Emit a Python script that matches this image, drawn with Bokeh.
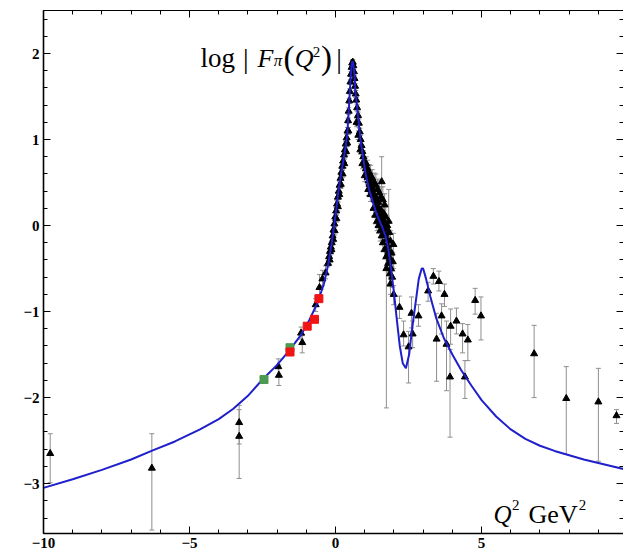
from bokeh.plotting import figure
from bokeh.models import (LinearAxis, SingleIntervalTicker, CustomJSTickFormatter,
                          Label, Range1d)
from bokeh.embed import file_html
from bokeh.resources import INLINE

# Model curve: log|F_pi(Q^2)| vs Q^2 (GeV^2)
curve_q2 = [-10.0, -9.0, -8.0, -7.0, -6.3, -5.5, -4.64, -4.0, -3.5, -3.0,
            -2.5, -2.0, -1.6, -1.2, -0.9, -0.62, -0.40, -0.25, -0.12, 0.00,
            0.10, 0.20, 0.30, 0.40, 0.46, 0.51, 0.55, 0.58, 0.61, 0.65,
            0.68, 0.77, 0.86, 0.95, 1.03, 1.15, 1.27, 1.40, 1.50, 1.60,
            1.71, 1.80, 1.90, 2.00, 2.10, 2.20, 2.30, 2.41, 2.52, 2.62,
            2.72, 2.85, 2.95, 3.00, 3.10, 3.25, 3.45, 3.71, 4.00, 4.30,
            4.65, 5.00, 5.50, 6.00, 6.50, 7.00, 7.50, 8.00, 8.50, 9.00,
            9.50, 9.86]
curve_logf = [-3.05, -2.95, -2.84, -2.72, -2.62, -2.51, -2.37, -2.25, -2.13, -1.98,
              -1.79, -1.62, -1.46, -1.28, -1.10, -0.90, -0.68, -0.45, -0.18, 0.12,
              0.40, 0.62, 0.82, 1.05, 1.38, 1.68, 1.87, 1.91, 1.88, 1.74,
              1.55, 1.28, 0.98, 0.78, 0.60, 0.42, 0.28, 0.14, 0.06, -0.02,
              -0.12, -0.26, -0.50, -0.78, -1.10, -1.40, -1.60, -1.66, -1.50, -1.20,
              -0.95, -0.62, -0.50, -0.50, -0.62, -0.83, -1.08, -1.31, -1.50, -1.68,
              -1.86, -2.03, -2.22, -2.37, -2.48, -2.56, -2.62, -2.67, -2.72, -2.76,
              -2.80, -2.83]

# Dense timelike data along the rho peak (value, symmetric error)
dense_q2 = [-0.26, -0.22, -0.19, -0.16, -0.13, -0.10, -0.07, -0.04, -0.01, 0.02,
            0.05, 0.08, 0.11, 0.14, 0.17, 0.20, 0.23, 0.26, 0.29, 0.32,
            0.35, 0.38, 0.41, 0.43, 0.45, 0.47, 0.49, 0.51, 0.53, 0.55,
            0.57, 0.59, 0.61, 0.63, 0.65, 0.67, 0.69, 0.71, 0.74, 0.77,
            0.80, 0.83, 0.86, 0.89, 0.92, 0.95, 0.98, 1.01, 1.04, 1.07,
            1.10, 1.13, 1.16, 1.19, 1.22, 1.25, 1.28, 1.31, 1.34, 1.37,
            1.40, 1.43, 1.46, 1.49, 1.52, 1.55, 1.58, 1.61, 1.64, 1.67,
            1.70, 1.73, 1.76, 1.79, 1.82, 1.86, 1.90, 1.94]
dense_logf = [-0.44, -0.36, -0.30, -0.25, -0.20, -0.12, -0.05, 0.02, 0.10, 0.17,
              0.25, 0.33, 0.40, 0.47, 0.55, 0.62, 0.69, 0.75, 0.82, 0.88,
              0.95, 1.02, 1.10, 1.22, 1.33, 1.45, 1.56, 1.67, 1.76, 1.84,
              1.89, 1.90, 1.86, 1.79, 1.71, 1.62, 1.53, 1.46, 1.37, 1.28,
              1.19, 1.09, 1.00, 0.93, 0.86, 0.80, 0.74, 0.70, 0.66, 0.60,
              0.56, 0.52, 0.48, 0.50, 0.44, 0.40, 0.42, 0.35, 0.30, 0.33,
              0.26, 0.22, 0.27, 0.17, 0.12, 0.18, 0.08, 0.02, 0.06, -0.04,
              -0.10, -0.02, -0.16, -0.24, -0.30, -0.38, -0.50, -0.60]
dense_err = [0.04, 0.05, 0.04, 0.05, 0.06, 0.04, 0.05, 0.04, 0.05, 0.04,
             0.04, 0.05, 0.04, 0.04, 0.05, 0.04, 0.04, 0.05, 0.04, 0.04,
             0.03, 0.04, 0.04, 0.03, 0.04, 0.03, 0.03, 0.03, 0.03, 0.03,
             0.03, 0.03, 0.03, 0.03, 0.03, 0.03, 0.04, 0.03, 0.04, 0.04,
             0.05, 0.04, 0.05, 0.06, 0.05, 0.07, 0.06, 0.08, 0.07, 0.09,
             0.08, 0.10, 0.08, 0.12, 0.09, 0.10, 0.14, 0.08, 0.11, 0.13,
             0.09, 0.12, 0.15, 0.10, 0.08, 0.14, 0.11, 0.09, 0.13, 0.10,
             0.12, 0.15, 0.09, 0.11, 0.10, 0.12, 0.10, 0.12]

# Second timelike set, scattered beside the first on both flanks
dense2_q2 = [1.05, 1.10, 1.15, 1.20, 1.26, 1.32, 1.38, 1.44, 1.50, 1.55,
             1.62, 1.68, 1.30, 1.36, 1.42, 1.47, 1.53, 1.58, 1.65, 1.72,
             1.77, 1.84, 1.88, 1.62, 1.68, 1.74, 1.80, 1.86, 1.92, 1.96,
             1.20, 1.12, 1.00, 0.92, 0.85, 0.78, 0.72, -0.20, -0.14, -0.08,
             -0.03, 0.03, 0.08, 0.13, 0.18, 0.24, 0.30, 0.36, 0.40, 0.44]
dense2_logf = [0.72, 0.66, 0.62, 0.58, 0.55, 0.50, 0.47, 0.42, 0.38, 0.33,
               0.30, 0.24, 0.20, 0.12, 0.05, 0.00, -0.06, -0.12, 0.14, 0.10,
               0.00, -0.08, -0.18, -0.20, -0.28, -0.36, -0.44, -0.56, -0.32, -0.42,
               0.36, 0.42, 0.58, 0.72, 0.88, 1.05, 1.20, -0.40, -0.28, -0.16,
               -0.06, 0.08, 0.22, 0.36, 0.48, 0.60, 0.72, 0.86, 0.96, 1.10]
dense2_err = [0.08, 0.10, 0.09, 0.12, 0.10, 0.11, 0.13, 0.12, 0.14, 0.12,
              0.15, 0.13, 0.09, 0.10, 0.11, 0.09, 0.12, 0.10, 0.12, 0.14,
              0.11, 0.13, 0.12, 0.10, 0.11, 0.12, 0.10, 0.12, 0.13, 0.11,
              0.08, 0.07, 0.07, 0.06, 0.05, 0.05, 0.05, 0.05, 0.05, 0.04,
              0.05, 0.04, 0.05, 0.04, 0.05, 0.04, 0.05, 0.04, 0.04, 0.04]

# Remaining data points with asymmetric error bars (lower, upper)
pt_q2 = [-9.77, -6.29, -3.30, -3.30, -1.96, -1.94, -1.18, -1.14, -0.68, -0.55,
         -0.45, -0.34, 1.58, 1.82, 1.98, 1.74, 1.88, 1.99, 2.19, 2.33,
         2.50, 2.60, 2.64, 2.84, 3.17, 3.35, 3.54, 3.73, 3.63, 3.46,
         3.80, 3.94, 3.92, 4.14, 4.35, 4.53, 4.43, 4.78, 4.98, 6.80,
         7.90, 9.00, 9.62]
pt_logf = [-2.65, -2.82, -2.29, -2.45, -1.64, -1.74, -1.25, -1.36, -0.92, -0.72,
           -0.62, -0.55, 0.51, 0.05, -0.22, -0.50, -0.68, -0.80, -0.95, -1.27,
           -1.41, -1.02, -1.26, -1.05, -0.76, -0.59, -0.65, -0.80, -1.05, -1.32,
           -1.38, -1.17, -1.76, -1.11, -1.26, -1.33, -1.76, -0.87, -1.05, -1.49,
           -2.01, -2.05, -2.21]
pt_low = [-2.99, -3.54, -2.54, -2.94, -1.76, -1.86, -1.32, -1.48, -1.00, -0.88,
          -0.70, -0.62, 0.16, -0.19, -0.50, -2.12, -0.80, -0.92, -1.08, -1.40,
          -1.83, -1.19, -1.42, -1.17, -0.88, -0.68, -0.76, -0.94, -1.26, -1.81,
          -1.92, -1.38, -2.46, -1.26, -1.48, -1.57, -2.01, -1.03, -1.33, -2.00,
          -2.66, -2.74, -2.30]
pt_high = [-2.42, -2.42, -2.09, -2.14, -1.55, -1.62, -1.18, -1.28, -0.85, -0.57,
           -0.52, -0.47, 0.80, 0.42, -0.09, -0.06, -0.60, -0.70, -0.82, -1.11,
           -1.23, -0.83, -1.11, -0.92, -0.66, -0.50, -0.53, -0.68, -0.91, -1.02,
           -1.11, -0.97, -1.44, -0.96, -1.14, -1.15, -1.57, -0.73, -0.83, -1.16,
           -1.64, -1.66, -2.14]

# Spacelike points from the other two data sets
green_q2 = [-2.45, -1.56]
green_logf = [-1.79, -1.42]
red_q2 = [-1.56, -0.97, -0.72, -0.57]
red_logf = [-1.47, -1.17, -1.09, -0.85]

SERIF = "Liberation Serif"

p = figure(width=623, height=556, x_range=Range1d(-10, 9.86), y_range=Range1d(-3.58, 2.5),
           output_backend="svg", toolbar_location=None,
           min_border_left=43, min_border_right=0, min_border_top=10, min_border_bottom=23,
           x_axis_location=None, y_axis_location=None)
p.grid.visible = False
p.outline_line_color = None
p.background_fill_color = "white"
p.border_fill_color = "white"

blank_fmt = CustomJSTickFormatter(code="return '';")


def frame_axis(loc, interval, labelled, line_width):
    ax = LinearAxis(ticker=SingleIntervalTicker(interval=interval, num_minor_ticks=5))
    ax.major_tick_in = 7
    ax.major_tick_out = 0
    ax.minor_tick_in = 4
    ax.minor_tick_out = 0
    ax.major_tick_line_color = "black"
    ax.minor_tick_line_color = "black"
    ax.axis_line_color = "black"
    ax.axis_line_width = line_width
    if labelled:
        ax.major_label_text_font = SERIF
        ax.major_label_text_font_style = "bold"
        ax.major_label_text_font_size = "15px"
        ax.major_label_text_color = "black"
        ax.major_label_standoff = 4
    else:
        ax.formatter = blank_fmt
        ax.major_label_text_font_size = "0px"
        ax.major_label_standoff = 0
    p.add_layout(ax, loc)
    return ax


frame_axis("below", 5, True, 1.6)
frame_axis("left", 1, True, 1.6)
frame_axis("above", 5, False, 1.0)
right_ax = frame_axis("right", 1, False, 1.0)
right_ax.axis_line_alpha = 0

# error bars
bar_color = "#8f8f8f"
dense_low = [v - e for v, e in zip(dense_logf, dense_err)]
dense_high = [v + e for v, e in zip(dense_logf, dense_err)]
dense2_low = [v - e for v, e in zip(dense2_logf, dense2_err)]
dense2_high = [v + e for v, e in zip(dense2_logf, dense2_err)]
for xs, lo, hi in ((dense_q2, dense_low, dense_high),
                   (dense2_q2, dense2_low, dense2_high),
                   (pt_q2, pt_low, pt_high)):
    p.segment(x0=xs, y0=lo, x1=xs, y1=hi, line_color=bar_color, line_width=1)
    p.scatter(xs, lo, marker="dash", size=5, line_color=bar_color, line_width=1)
    p.scatter(xs, hi, marker="dash", size=5, line_color=bar_color, line_width=1)

p.scatter(dense_q2, dense_logf, marker="triangle", size=7, color="black")
p.scatter(dense2_q2, dense2_logf, marker="triangle", size=7, color="black")
p.scatter(pt_q2, pt_logf, marker="triangle", size=7, color="black")

p.line(curve_q2, curve_logf, line_color="#1f1fcc", line_width=2)

p.scatter(green_q2, green_logf, marker="square", size=8, color="#4e9a52")
p.scatter(red_q2, red_logf, marker="square", size=8, color="#f01414")


def lab(x, y, text, size, style="normal"):
    p.add_layout(Label(x=x, y=y, text=text, text_font=SERIF, text_font_size=size,
                       text_font_style=style, text_color="black",
                       text_baseline="alphabetic", text_align="left"))


# log | F_pi(Q^2) |
lab(-4.62, 1.944, "log", "27px")
lab(-3.17, 1.944, "|", "28px")
lab(-2.67, 1.944, "F", "26px", "italic")
lab(-2.12, 1.92, "\u03c0", "17px", "italic")
lab(-1.78, 1.944, "(", "33px")
lab(-1.40, 1.944, "Q", "26px", "italic")
lab(-0.78, 2.02, "2", "15px")
lab(-0.50, 1.944, ")", "33px")
lab(0.02, 1.944, "|", "28px")

# Q^2 GeV^2
lab(5.41, -3.356, "Q", "25px", "italic")
lab(6.04, -3.25, "2", "15px")
lab(6.61, -3.356, "GeV", "26px")
lab(8.33, -3.25, "2", "15px")

open("out.html", "w").write(file_html(p, INLINE))
